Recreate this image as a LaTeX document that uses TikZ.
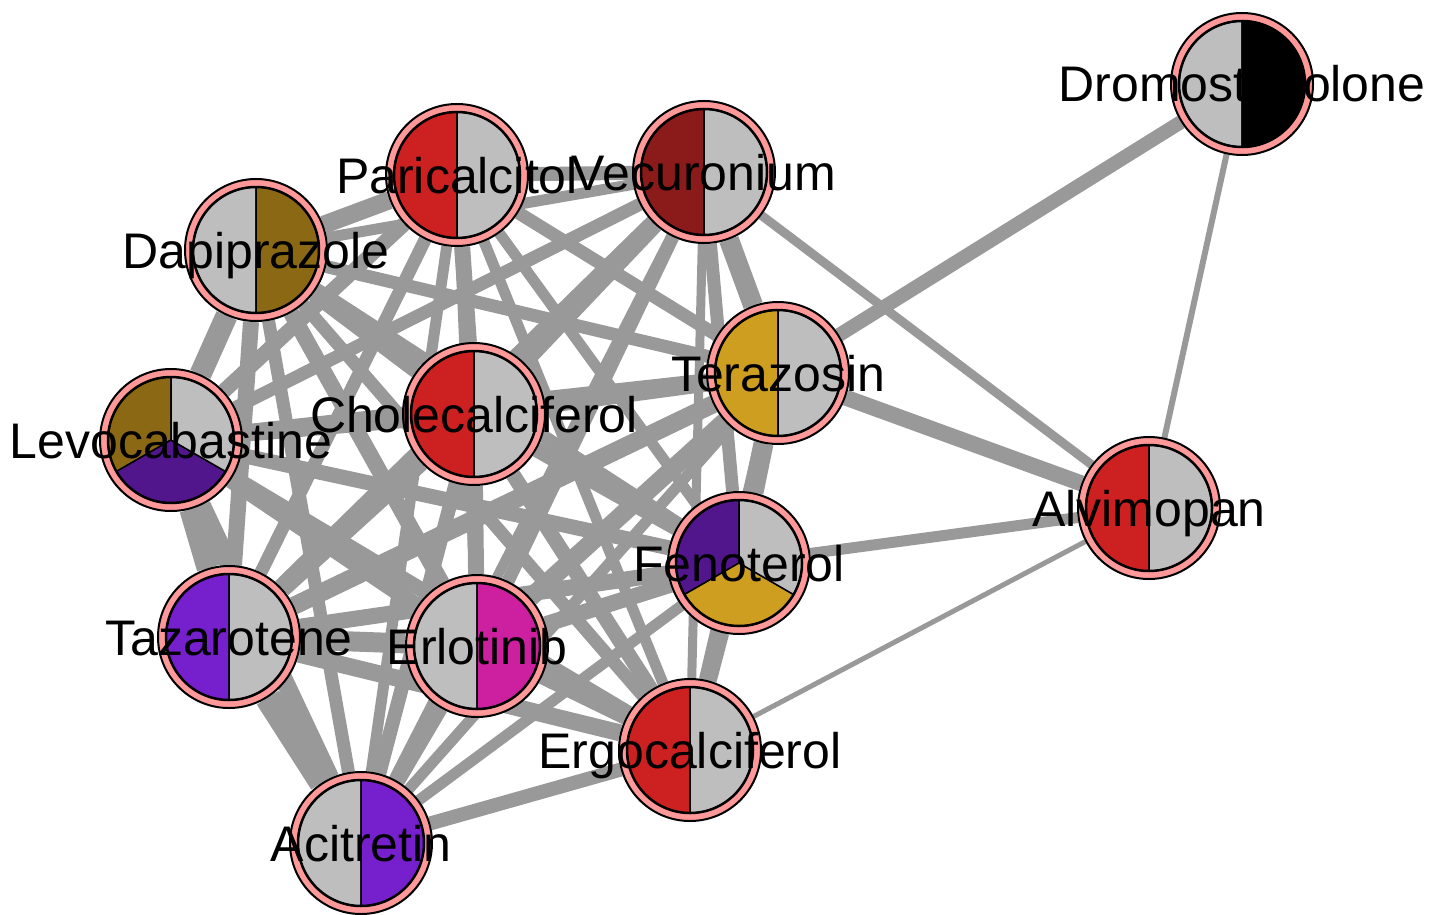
\documentclass[tikz,border=0pt]{standalone}
\usepackage{fontspec}
\setmainfont{Liberation Sans}
\usetikzlibrary{backgrounds}

\definecolor{ringpink}{RGB}{255,153,153}
\definecolor{slicegray}{RGB}{190,190,190}
\definecolor{vitred}{RGB}{205,32,32}
\definecolor{vecred}{RGB}{139,26,26}
\definecolor{olivebrown}{RGB}{139,105,20}
\definecolor{goldslice}{RGB}{205,158,32}
\definecolor{indigoslice}{RGB}{82,22,140}
\definecolor{violetslice}{RGB}{118,32,205}
\definecolor{magentaslice}{RGB}{205,32,160}
\definecolor{linkgray}{RGB}{153,153,153}

\tikzset{
  drug/.style={circle, draw=black, line width=2pt, fill=ringpink, minimum size=142pt, inner sep=0pt},
  slice/.style={draw=black, line width=1.5pt},
  drugname/.style={font=\fontsize{50}{60}\selectfont, text height=36pt, text depth=0pt, inner sep=0pt},
  link/.style={draw=linkgray, line width=#1pt},
}

% two slices: left, right
\newcommand{\pieii}[3]{%
  \filldraw[slice, fill=#2] (#1.center) -- ++(90:63pt) arc[start angle=90, end angle=270, radius=63pt] -- cycle;
  \filldraw[slice, fill=#3] (#1.center) -- ++(270:63pt) arc[start angle=270, end angle=450, radius=63pt] -- cycle;
  \draw[line width=2.5pt] (#1.center) circle[radius=63pt];}
% three slices: upper left, bottom, upper right
\newcommand{\pieiii}[4]{%
  \filldraw[slice, fill=#2] (#1.center) -- ++(90:63pt) arc[start angle=90, end angle=210, radius=63pt] -- cycle;
  \filldraw[slice, fill=#3] (#1.center) -- ++(210:63pt) arc[start angle=210, end angle=330, radius=63pt] -- cycle;
  \filldraw[slice, fill=#4] (#1.center) -- ++(330:63pt) arc[start angle=330, end angle=450, radius=63pt] -- cycle;
  \draw[line width=2.5pt] (#1.center) circle[radius=63pt];}

\begin{document}
\begin{tikzpicture}[x=1pt,y=-1pt]
\useasboundingbox (0,0) rectangle (1429,915);

\node[drug] (dro) at (1242,84) {};
\node[drug] (par) at (457,175) {};
\node[drug] (vec) at (704,172) {};
\node[drug] (dap) at (256,250) {};
\node[drug] (ter) at (778,373) {};
\node[drug] (cho) at (474,414) {};
\node[drug] (lev) at (171,440) {};
\node[drug] (alv) at (1149,508) {};
\node[drug] (fen) at (739,563) {};
\node[drug] (taz) at (229,637) {};
\node[drug] (erl) at (477,646) {};
\node[drug] (erg) at (690,750) {};
\node[drug] (aci) at (361,843) {};

\begin{scope}[on background layer]
\path[link=14] (dro) -- (ter);
\path[link=6] (dro) -- (alv);
\path[link=16] (ter) -- (alv);
\path[link=9] (vec) -- (alv);
\path[link=11] (fen) -- (alv);
\path[link=5] (erg) -- (alv);
\path[link=14] (par) -- (vec);
\path[link=18] (par) -- (dap);
\path[link=13] (par) -- (ter);
\path[link=16] (par) -- (cho);
\path[link=15] (par) -- (lev);
\path[link=11] (par) -- (fen);
\path[link=13] (par) -- (taz);
\path[link=10] (par) -- (erl);
\path[link=11] (par) -- (erg);
\path[link=11] (par) -- (aci);
\path[link=11] (vec) -- (dap);
\path[link=20] (vec) -- (ter);
\path[link=18] (vec) -- (cho);
\path[link=13] (vec) -- (lev);
\path[link=13] (vec) -- (fen);
\path[link=15] (vec) -- (taz);
\path[link=13] (vec) -- (erl);
\path[link=9] (vec) -- (erg);
\path[link=10] (vec) -- (aci);
\path[link=13] (dap) -- (ter);
\path[link=16] (dap) -- (cho);
\path[link=22] (dap) -- (lev);
\path[link=13] (dap) -- (fen);
\path[link=16] (dap) -- (taz);
\path[link=16] (dap) -- (erl);
\path[link=13] (dap) -- (erg);
\path[link=13] (dap) -- (aci);
\path[link=18] (ter) -- (cho);
\path[link=15] (ter) -- (lev);
\path[link=20] (ter) -- (fen);
\path[link=18] (ter) -- (taz);
\path[link=18] (ter) -- (erl);
\path[link=15] (ter) -- (erg);
\path[link=11] (ter) -- (aci);
\path[link=16] (cho) -- (lev);
\path[link=16] (cho) -- (fen);
\path[link=18] (cho) -- (taz);
\path[link=16] (cho) -- (erl);
\path[link=15] (cho) -- (erg);
\path[link=14] (cho) -- (aci);
\path[link=15] (lev) -- (fen);
\path[link=24] (lev) -- (taz);
\path[link=16] (lev) -- (erl);
\path[link=15] (lev) -- (erg);
\path[link=18] (lev) -- (aci);
\path[link=16] (fen) -- (taz);
\path[link=16] (fen) -- (erl);
\path[link=17] (fen) -- (erg);
\path[link=11] (fen) -- (aci);
\path[link=20] (taz) -- (erl);
\path[link=17] (taz) -- (erg);
\path[link=26] (taz) -- (aci);
\path[link=13] (erl) -- (erg);
\path[link=15] (erl) -- (aci);
\path[link=14] (erg) -- (aci);
\end{scope}

\pieii{dro}{slicegray}{black}
\pieii{par}{vitred}{slicegray}
\pieii{vec}{vecred}{slicegray}
\pieii{dap}{slicegray}{olivebrown}
\pieii{ter}{goldslice}{slicegray}
\pieii{cho}{vitred}{slicegray}
\pieiii{lev}{olivebrown}{indigoslice}{slicegray}
\pieii{alv}{vitred}{slicegray}
\pieiii{fen}{indigoslice}{goldslice}{slicegray}
\pieii{taz}{violetslice}{slicegray}
\pieii{erl}{slicegray}{magentaslice}
\pieii{erg}{vitred}{slicegray}
\pieii{aci}{slicegray}{violetslice}

\node[drugname] (dro-t) at (dro) {Dromostanolone};
\node[drugname] (par-t) at (par) {Paricalcitol};
\node[drugname] (vec-t) at (vec) {Vecuronium};
\node[drugname] (dap-t) at (dap) {Dapiprazole};
\node[drugname] (ter-t) at (ter) {Terazosin};
\node[drugname] (cho-t) at (cho) {Cholecalciferol};
\node[drugname] (lev-t) at (lev) {Levocabastine};
\node[drugname] (alv-t) at (alv) {Alvimopan};
\node[drugname] (fen-t) at (fen) {Fenoterol};
\node[drugname] (taz-t) at (taz) {Tazarotene};
\node[drugname] (erl-t) at (erl) {Erlotinib};
\node[drugname] (erg-t) at (erg) {Ergocalciferol};
\node[drugname] (aci-t) at (aci) {Acitretin};
\end{tikzpicture}
\end{document}
